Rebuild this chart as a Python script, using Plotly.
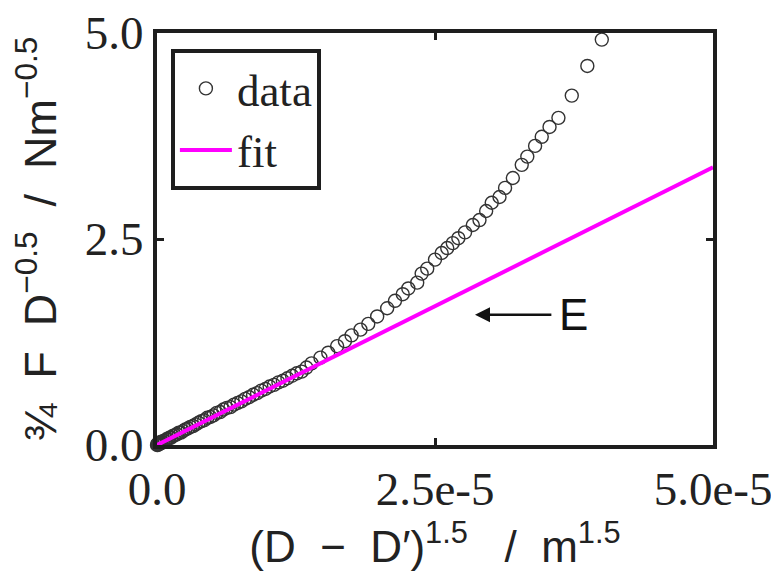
import plotly.graph_objects as go

# ---- data ----
data_x = [0.0, 0.003e-5, 0.008e-5, 0.012e-5, 0.018e-5, 0.025e-5, 0.032e-5, 0.040e-5, 0.050e-5,
          0.060e-5, 0.072e-5, 0.085e-5, 0.098e-5, 0.112e-5, 0.127e-5, 0.143e-5, 0.160e-5,
          0.178e-5, 0.196e-5, 0.215e-5, 0.235e-5, 0.256e-5, 0.278e-5, 0.300e-5, 0.324e-5,
          0.348e-5, 0.373e-5, 0.399e-5, 0.425e-5, 0.452e-5, 0.480e-5, 0.508e-5, 0.537e-5,
          0.567e-5, 0.597e-5, 0.628e-5, 0.660e-5, 0.692e-5, 0.725e-5, 0.759e-5, 0.793e-5,
          0.828e-5, 0.864e-5, 0.900e-5, 0.937e-5, 0.975e-5, 1.013e-5, 1.052e-5, 1.092e-5,
          1.132e-5, 1.173e-5, 1.215e-5, 1.257e-5, 1.300e-5, 1.344e-5,
          1.39e-5, 1.47e-5, 1.54e-5, 1.62e-5, 1.69e-5, 1.75e-5, 1.83e-5, 1.90e-5, 1.98e-5,
          2.07e-5, 2.14e-5, 2.21e-5, 2.26e-5, 2.34e-5, 2.38e-5, 2.43e-5, 2.50e-5, 2.56e-5,
          2.61e-5, 2.66e-5, 2.71e-5, 2.77e-5, 2.84e-5, 2.90e-5, 2.96e-5, 3.01e-5, 3.08e-5,
          3.13e-5, 3.20e-5, 3.28e-5, 3.33e-5, 3.40e-5, 3.46e-5, 3.53e-5, 3.61e-5, 3.73e-5,
          3.87e-5, 4.00e-5]
data_y = [0.00, 0.01, 0.00, 0.02, 0.01, 0.03, 0.02, 0.04, 0.03,
          0.05, 0.05, 0.07, 0.07, 0.09, 0.09, 0.11, 0.12,
          0.13, 0.15, 0.15, 0.17, 0.19, 0.20, 0.22, 0.23,
          0.25, 0.27, 0.29, 0.30, 0.33, 0.34, 0.36, 0.39,
          0.40, 0.43, 0.45, 0.46, 0.49, 0.51, 0.53, 0.56,
          0.58, 0.61, 0.63, 0.66, 0.68, 0.71, 0.73, 0.76,
          0.78, 0.81, 0.84, 0.87, 0.89, 0.94,
          0.99, 1.06, 1.12, 1.20, 1.26, 1.33, 1.40, 1.47, 1.56,
          1.66, 1.75, 1.83, 1.90, 1.97, 2.08, 2.14, 2.25, 2.33,
          2.39, 2.45, 2.51, 2.58, 2.67, 2.73, 2.84, 2.94, 3.01,
          3.12, 3.24, 3.40, 3.50, 3.63, 3.74, 3.86, 3.97, 4.24,
          4.60, 4.92]

fit_x = [0.0, 5.0e-5]
fit_y = [0.0, 3.37]

x_tickvals = [0.0, 2.5e-5, 5.0e-5]
x_ticktext = ["0.0", "2.5e-5", "5.0e-5"]
y_tickvals = [0.0, 2.5, 5.0]
y_ticktext = ["0.0", "2.5", "5.0"]

NB = "\u00a0"
x_title = (f"(D{NB}{NB}−{NB}{NB}D′)<sup>1.5</sup>{NB}{NB}{NB}/{NB}{NB}"
           f"m<sup>1.5</sup>")
y_title = (f"¾{NB}{NB}F{NB}{NB}D<sup>−0.5</sup>{NB}{NB}/{NB}{NB}"
           f"Nm<sup>−0.5</sup>")

frame = "#1e1e1e"
serif = "Liberation Serif"
sans = "Liberation Sans"

fig = go.Figure()
fig.add_trace(go.Scatter(
    x=data_x, y=data_y, mode="markers", name="data",
    marker=dict(symbol="circle-open", size=13, color="#333333", line=dict(width=1.4)),
    cliponaxis=False,
))
fig.add_trace(go.Scatter(
    x=fit_x, y=fit_y, mode="lines", name="fit",
    line=dict(color="#ff00ff", width=4),
))

# arrow labelled E
fig.add_annotation(x=2.86e-5, y=1.58, ax=3.56e-5, ay=1.58, xref="x", yref="y",
                   axref="x", ayref="y", text="", showarrow=True,
                   arrowhead=2, arrowsize=1.2, arrowwidth=2.5, arrowcolor="#111111")
fig.add_annotation(x=3.60e-5, y=1.58, xref="x", yref="y", text="E", showarrow=False,
                   xanchor="left", yanchor="middle",
                   font=dict(family=sans, size=44, color="#111111"))

axis_common = dict(
    showline=True, linewidth=4, linecolor=frame, mirror="ticks",
    ticks="inside", ticklen=7, tickwidth=3, tickcolor=frame,
    showgrid=False, zeroline=False, automargin=False,
    ticklabeloverflow="allow",
    tickfont=dict(family=serif, size=47, color="#222222"),
)

fig.update_xaxes(range=[0, 5.0e-5], tickvals=x_tickvals, ticktext=x_ticktext,
                 title=dict(text=x_title, font=dict(family=sans, size=44, color="#222222"),
                            standoff=8),
                 **axis_common)
fig.update_yaxes(range=[0, 5.0], tickvals=y_tickvals, ticktext=y_ticktext,
                 title=dict(text=y_title, font=dict(family=sans, size=45, color="#222222"),
                            standoff=28),
                 **axis_common)

# the page body adds an 8 px margin, so the figure is sized to fit the 779x575 window
fig.update_layout(
    width=771, height=567,
    margin=dict(l=149, r=66, t=25, b=130),
    paper_bgcolor="white", plot_bgcolor="white",
    showlegend=True,
    legend=dict(x=0.025, y=0.962, xanchor="left", yanchor="top",
                bgcolor="white", bordercolor=frame, borderwidth=4,
                font=dict(family=serif, size=45, color="#222222"),
                tracegroupgap=0, itemwidth=52),
)

fig.write_html("out.html")
